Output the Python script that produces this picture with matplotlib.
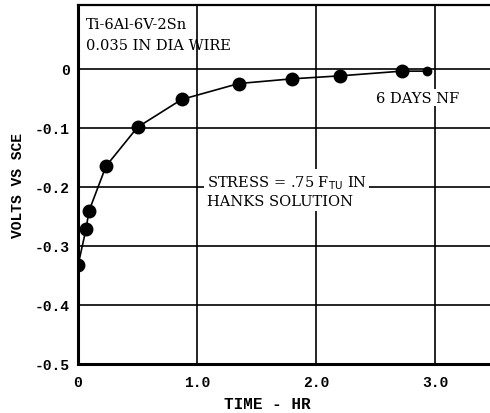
import matplotlib
matplotlib.use("Agg")
import matplotlib.pyplot as plt

# data
time_hr = [0.0, 0.067, 0.092, 0.235, 0.50, 0.87, 1.35, 1.80, 2.20, 2.72]
volts = [-0.333, -0.272, -0.241, -0.165, -0.099, -0.052, -0.025, -0.017, -0.012, -0.004]
end_time = [2.93]
end_volts = [-0.004]

x_ticks = [0, 1, 2, 3]
x_labels = ["0", "1.0", "2.0", "3.0"]
y_ticks = [0, -0.1, -0.2, -0.3, -0.4, -0.5]
y_labels = ["0", "-0.1", "-0.2", "-0.3", "-0.4", "-0.5"]

mono = "Liberation Mono"
serif = "DejaVu Serif"

fig = plt.figure(figsize=(4.9, 4.14), dpi=100)
ax = fig.add_axes([78 / 490, 49 / 414, 412 / 490, 359 / 414])

ax.plot(time_hr + end_time, volts + end_volts, color="black", lw=1.2, zorder=3)
ax.plot(time_hr, volts, "o", color="black", ms=9, zorder=4)
ax.plot(end_time, end_volts, "o", color="black", ms=6, zorder=4)

ax.set_xlim(0, 3.46)
ax.set_ylim(-0.5, 0.108)
ax.set_xticks(x_ticks)
ax.set_xticklabels(x_labels, fontfamily=mono, fontweight="bold", fontsize=10.5)
ax.set_yticks(y_ticks)
ax.set_yticklabels(y_labels, fontfamily=mono, fontweight="bold", fontsize=10.5)
ax.tick_params(length=0, pad=6)
ax.tick_params(axis="x", pad=8)
ax.grid(True, color="black", lw=1.2)
ax.set_axisbelow(True)

for side in ["left", "bottom"]:
    ax.spines[side].set_linewidth(2.2)
ax.spines["top"].set_linewidth(1.6)
ax.spines["right"].set_visible(False)

ax.set_xlabel("TIME - HR", fontfamily=mono, fontweight="bold", fontsize=11.5, va="center")
ax.xaxis.set_label_coords(0.459, -0.111)
ax.set_ylabel("VOLTS VS SCE", fontfamily=mono, fontweight="bold", fontsize=10.5, labelpad=7)

ax.text(0.07, 0.0765, "Ti-6Al-6V-2Sn", fontfamily=serif, fontsize=10.5, va="center")
ax.text(0.07, 0.041, "0.035 IN DIA WIRE", fontfamily=serif, fontsize=10.5, va="center")
ax.text(2.85, -0.049, "6 DAYS NF", fontfamily=serif, fontsize=10.5, va="center", ha="center",
        bbox=dict(facecolor="white", edgecolor="none", pad=1))
ax.text(1.08, -0.207, "STRESS = .75 F$_{\\mathrm{TU}}$ IN\nHANKS SOLUTION",
        fontfamily=serif, fontsize=10.5, va="center", linespacing=1.25,
        bbox=dict(facecolor="white", edgecolor="none", pad=2))

fig.savefig("out.png", dpi=100)
